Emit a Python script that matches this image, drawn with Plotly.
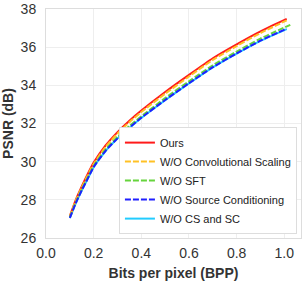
import plotly.graph_objects as go

bpp = [0.10, 0.125, 0.15, 0.175, 0.20, 0.25, 0.30, 0.35, 0.40, 0.50, 0.60, 0.70, 0.80, 0.90, 1.01]
bpp_sft = [0.10, 0.125, 0.15, 0.175, 0.20, 0.25, 0.30, 0.35, 0.40, 0.50, 0.60, 0.70, 0.80, 0.90, 1.025]

ours = [27.15, 28.00, 28.70, 29.35, 29.95, 30.85, 31.55, 32.15, 32.68, 33.65, 34.55, 35.42, 36.15, 36.83, 37.48]
wo_cs = [27.12, 27.95, 28.64, 29.28, 29.88, 30.77, 31.47, 32.07, 32.60, 33.56, 34.46, 35.33, 36.06, 36.74, 37.40]
wo_sft = [27.08, 27.87, 28.55, 29.17, 29.77, 30.64, 31.30, 31.87, 32.38, 33.33, 34.21, 35.05, 35.77, 36.45, 37.17]
wo_sc = [27.05, 27.83, 28.50, 29.11, 29.72, 30.57, 31.22, 31.78, 32.30, 33.23, 34.11, 34.95, 35.67, 36.34, 36.97]
wo_cs_sc = [27.04, 27.82, 28.49, 29.10, 29.71, 30.56, 31.21, 31.77, 32.29, 33.22, 34.10, 34.94, 35.66, 36.33, 36.95]

names = ["Ours", "W/O Convolutional Scaling", "W/O SFT",
         "W/O Source Conditioning", "W/O CS and SC"]
x_tick_vals = [0.0, 0.2, 0.4, 0.6, 0.8, 1.0]
x_tick_text = ["0.0", "0.2", "0.4", "0.6", "0.8", "1.0"]
y_tick_vals = [26, 28, 30, 32, 34, 36, 38]

series = [
    (bpp, ours, "#ff1a1a", "solid"),
    (bpp, wo_cs, "#ffc125", "6px,2px"),
    (bpp_sft, wo_sft, "#66d43c", "6px,2px"),
    (bpp, wo_sc, "#1f1fff", "6px,2px"),
    (bpp, wo_cs_sc, "#22ccff", "solid"),
]

fig = go.Figure()
order = [4, 0, 1, 2, 3]
for i in order:
    x, y, c, d = series[i]
    fig.add_trace(go.Scatter(
        x=x, y=y, mode="lines", name=names[i], legendrank=i + 1,
        line=dict(color=c, width=2, dash=d, shape="spline", smoothing=0.6),
    ))

font = "Liberation Sans, Arial, sans-serif"
fig.update_layout(
    width=305, height=283,
    margin=dict(l=46, r=4, t=9, b=45),
    paper_bgcolor="white", plot_bgcolor="white",
    font=dict(family=font, color="#333333"),
    legend=dict(
        x=0.286, y=0.017, xanchor="left", yanchor="bottom",
        bgcolor="white", bordercolor="#dddddd", borderwidth=1,
        font=dict(size=11, color="#222222"),
        tracegroupgap=0, itemwidth=30,
    ),
    xaxis=dict(
        range=[0, 1.07], tickvals=x_tick_vals, ticktext=x_tick_text,
        showgrid=True, gridcolor="#eeeeee", gridwidth=1,
        showline=True, linecolor="#dddddd", mirror=True, zeroline=False,
        ticks="", tickfont=dict(size=14, color="#333333"), automargin=False,
        ticklabelstandoff=2,
        title=dict(text="<b>Bits per pixel (BPP)</b>", font=dict(size=14, color="#333333"), standoff=8),
    ),
    yaxis=dict(
        range=[26, 38], tickvals=y_tick_vals,
        showgrid=True, gridcolor="#eeeeee", gridwidth=1,
        showline=True, linecolor="#dddddd", mirror=True, zeroline=False,
        ticks="", tickfont=dict(size=14, color="#333333"), automargin=False,
        ticklabelstandoff=6,
        title=dict(text="<b>PSNR (dB)</b>", font=dict(size=14, color="#333333"), standoff=4),
    ),
)

fig.write_html(
    "out.html",
    config={"displayModeBar": False},
    post_script="document.body.style.margin='0';document.body.style.padding='0';document.body.style.overflow='hidden';",
)
